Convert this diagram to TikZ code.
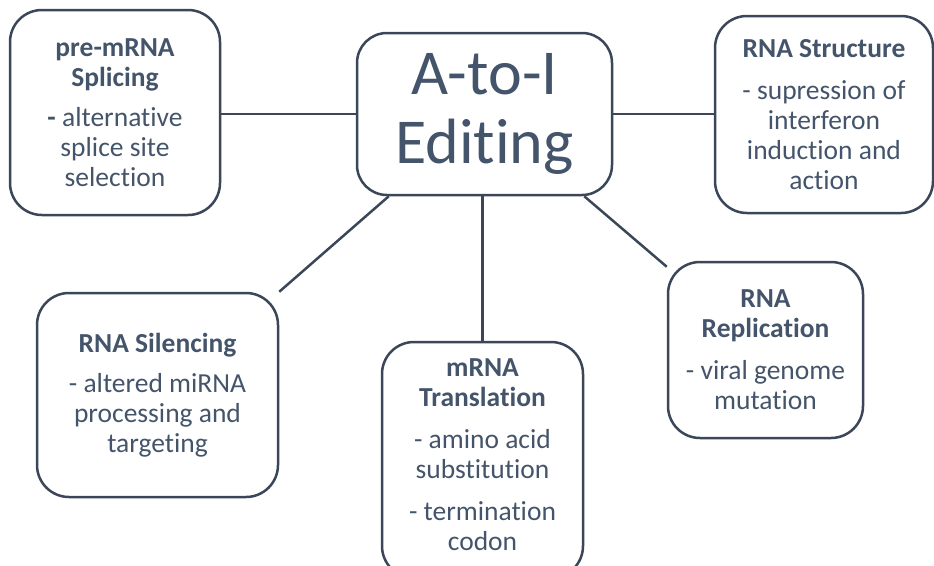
\documentclass[tikz,border=0pt]{standalone}
\usepackage{fontspec}
\setmainfont{Carlito}[RawFeature={-liga}]
\usetikzlibrary{calc}
\definecolor{txt}{HTML}{44546A}
\definecolor{edge}{HTML}{3B4759}
\begin{document}
\begin{tikzpicture}[x=1pt,y=-1pt,
  box/.style={draw=edge, line width=2.5pt, rounded corners=32pt, align=center,
    text=txt, inner sep=0pt, font=\fontsize{27.5}{30}\selectfont},
  bigbox/.style={box, rounded corners=30pt, font=\fontsize{64}{69}\selectfont},
  plaintext/.style={align=center, text=txt, inner sep=0pt, font=\fontsize{27.5}{30}\selectfont},
  conn/.style={draw=edge, line width=2.5pt}]
\useasboundingbox (0,0) rectangle (934,565);

\node[bigbox, minimum width=255pt, minimum height=162pt] (center) at (484.5,114) {A-to-I\\Editing};

\node[box, minimum width=210pt, minimum height=205pt] (pre) at (115,112.5)
  {\textbf{pre-mRNA}\\\textbf{Splicing}\\[10pt]\textbf{-} alternative\\splice site\\selection};

\node[box, minimum width=218pt, minimum height=197pt] (struct) at (824,114.5)
  {\textbf{RNA Structure}\\[12pt]- supression of\\interferon\\induction and\\action};

\node[box, minimum width=241pt, minimum height=204pt] (silence) at (157.5,395)
  {\textbf{RNA Silencing}\\[10pt]- altered miRNA\\processing and\\targeting};

\node[box, minimum width=195pt, minimum height=176pt] (repl) at (765.5,350)
  {\textbf{RNA}\\\textbf{Replication}\\[12pt]- viral genome\\mutation};

\node[box, minimum width=201pt, minimum height=236pt] (trans) at (482.5,460) {};
\node[plaintext] (transtext) at (482.5,455)
  {\textbf{mRNA}\\\textbf{Translation}\\[12pt]- amino acid\\substitution\\[12pt]- termination\\codon};

\coordinate (cl) at ($(center.south west)+(33,0)$);
\coordinate (cr) at ($(center.south east)+(-29,0)$);

\draw[conn] (center.west) -- (center.west -| pre.east);
\draw[conn] (center.east) -- (center.east -| struct.west);
\draw[conn] (trans.north |- center.south) -- (trans.north);
\draw[conn] (cl) -- (silence.north east);
\draw[conn] (cr) -- ($(repl.north west)+(0,6)$);
\end{tikzpicture}
\end{document}
